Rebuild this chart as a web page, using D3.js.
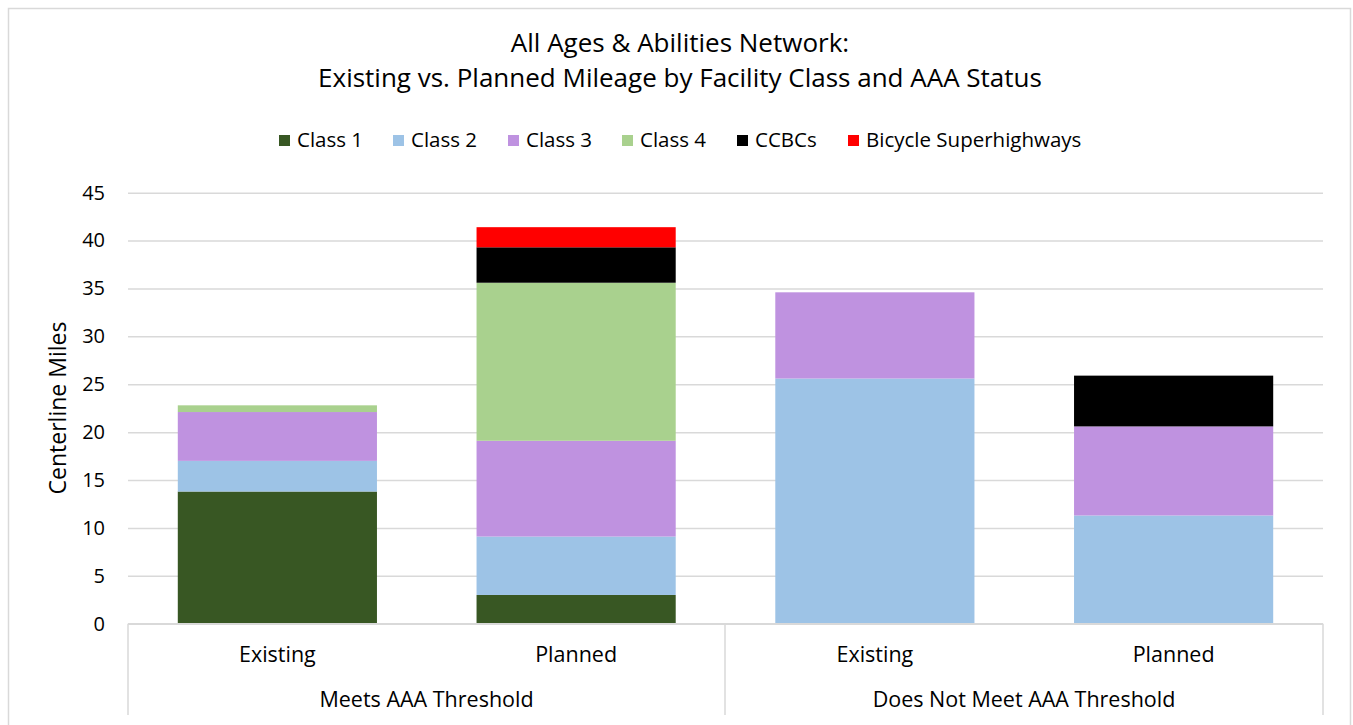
<!DOCTYPE html>
<html>
<head>
<meta charset="utf-8">
<script src="https://cdn.jsdelivr.net/npm/d3@7"></script>
<style>
  body { margin: 0; background: #fff; }
  text { font-family: "Open Sans", sans-serif; fill: #000; }
</style>
</head>
<body>
<svg id="chart" width="1353" height="725"></svg>
<script>
// data
let groups = ['Meets AAA Threshold', 'Does Not Meet AAA Threshold'];
let stages = ['Existing', 'Planned'];
let seriesNames = ['Class 1', 'Class 2', 'Class 3', 'Class 4', 'CCBCs', 'Bicycle Superhighways'];
let seriesColors = ['#385723', '#9DC3E6', '#BF92E0', '#A9D18E', '#000000', '#FF0000'];
let class1 = [13.8, 3.0, 0, 0];
let class2 = [3.2, 6.1, 25.6, 11.3];
let class3 = [5.1, 10.0, 9.0, 9.3];
let class4 = [0.7, 16.5, 0, 0];
let ccbcs = [0, 3.7, 0, 5.3];
let superhighways = [0, 2.1, 0, 0];
let yTicks = [0, 5, 10, 15, 20, 25, 30, 35, 40, 45];

let chartW = 1353, chartH = 725;
let plotLeft = 128, plotRight = 1323, plotTop = 192.7, plotBottom = 623.7;
let gridColor = '#d9d9d9';

let svg = d3.select('#chart');

// rows for stacking
let allSeries = [class1, class2, class3, class4, ccbcs, superhighways];
let rows = [];
groups.forEach((g, gi) => {
    stages.forEach((s, si) => {
        let i = gi * stages.length + si;
        let row = {key: g + '|' + s, group: g, stage: s};
        seriesNames.forEach((n, k) => row[n] = allSeries[k][i]);
        rows.push(row);
    });
});

let x = d3.scaleBand()
    .domain(rows.map(d => d.key))
    .range([plotLeft, plotRight])
    .paddingInner(1/3)
    .paddingOuter(1/6);
let y = d3.scaleLinear().domain([0, 45]).range([plotBottom, plotTop]);
let color = d3.scaleOrdinal().domain(seriesNames).range(seriesColors);

// outer chart border
svg.append('rect')
    .attr('x', 8.5).attr('y', 8.5)
    .attr('width', 1342).attr('height', 740)
    .attr('fill', 'none')
    .attr('stroke', gridColor)
    .attr('stroke-width', 1.5);

// title
let title = svg.append('text')
    .attr('text-anchor', 'middle')
    .style('font-size', '26px');
title.append('tspan').attr('x', 680).attr('y', 52).text('All Ages & Abilities Network:');
title.append('tspan').attr('x', 680).attr('y', 87).text('Existing vs. Planned Mileage by Facility Class and AAA Status');

// legend
let legendX = [279, 393, 508, 622, 737, 848];
let legend = svg.append('g');
seriesNames.forEach((n, i) => {
    legend.append('rect')
        .attr('x', legendX[i]).attr('y', 135)
        .attr('width', 11).attr('height', 11)
        .attr('fill', color(n));
    legend.append('text')
        .attr('x', legendX[i] + 18).attr('y', 147)
        .style('font-size', '20.5px')
        .text(n);
});

// y axis with gridlines
let yAxis = svg.append('g')
    .attr('transform', `translate(${plotLeft},0)`)
    .call(d3.axisLeft(y).tickValues(yTicks).tickSize(-(plotRight - plotLeft)).tickPadding(23));
yAxis.select('.domain').remove();
yAxis.selectAll('.tick line')
    .attr('stroke', gridColor)
    .attr('stroke-width', 1.5);
yAxis.selectAll('.tick text')
    .style('font-size', '20px')
    .style('font-family', '"Open Sans", sans-serif')
    .attr('fill', '#000');

// axis title
svg.append('text')
    .attr('transform', 'translate(66,408) rotate(-90)')
    .attr('text-anchor', 'middle')
    .style('font-size', '23px')
    .text('Centerline Miles');

// stacked bars
let stacked = d3.stack().keys(seriesNames)(rows);
svg.append('g').selectAll('g')
    .data(stacked)
    .join('g')
    .attr('fill', d => color(d.key))
    .selectAll('rect')
    .data(d => d)
    .join('rect')
    .attr('x', d => x(d.data.key))
    .attr('width', x.bandwidth())
    .attr('y', d => y(d[1]))
    .attr('height', d => y(d[0]) - y(d[1]));

// category axis (two levels)
let axisG = svg.append('g');
axisG.append('line')
    .attr('x1', plotLeft).attr('x2', plotRight)
    .attr('y1', plotBottom).attr('y2', plotBottom)
    .attr('stroke', gridColor).attr('stroke-width', 1.5);
let sepX = [plotLeft, x(rows[2].key) - x.step() * x.paddingInner() / 2 - 0.5, plotRight];
sepX.forEach(sx => {
    axisG.append('line')
        .attr('x1', sx).attr('x2', sx)
        .attr('y1', plotBottom).attr('y2', 715)
        .attr('stroke', gridColor).attr('stroke-width', 1.5);
});
axisG.selectAll('.stage')
    .data(rows)
    .join('text')
    .attr('class', 'stage')
    .attr('x', d => x(d.key) + x.bandwidth() / 2)
    .attr('y', 662)
    .attr('text-anchor', 'middle')
    .style('font-size', '21.5px')
    .text(d => d.stage);
axisG.selectAll('.group')
    .data(groups)
    .join('text')
    .attr('class', 'group')
    .attr('x', (g, gi) => (sepX[gi] + sepX[gi + 1]) / 2)
    .attr('y', 707)
    .attr('text-anchor', 'middle')
    .style('font-size', '21.5px')
    .text(d => d);
</script>
</body>
</html>
